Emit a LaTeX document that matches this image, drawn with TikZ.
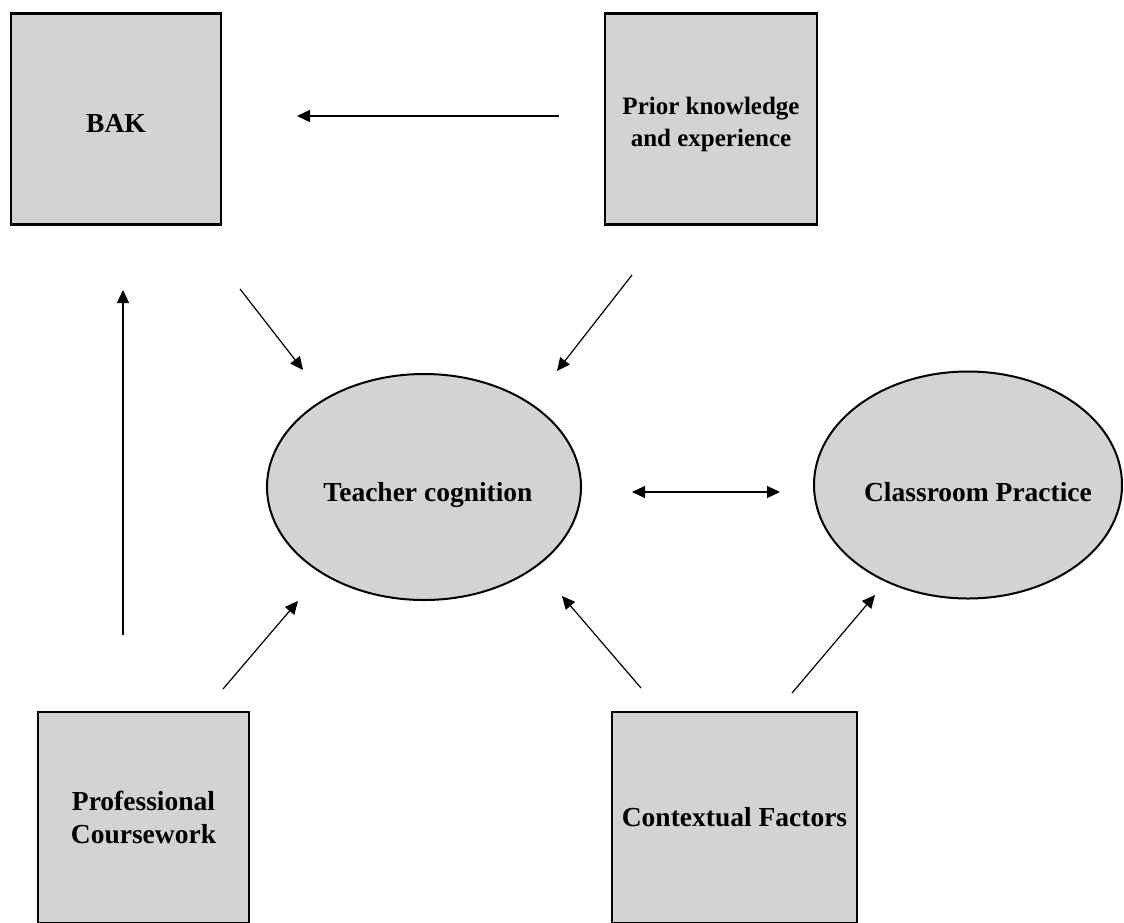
\documentclass[tikz,border=0pt]{standalone}
\usepackage{fontspec}
\setmainfont{Liberation Serif}
\usetikzlibrary{arrows.meta,shapes.geometric,positioning}
\definecolor{boxgray}{RGB}{211,211,211}

\begin{document}
\begin{tikzpicture}[x=1pt,y=-1pt,
    >={Triangle[length=13pt,width=12pt]},
    box/.style={draw,line width=2.2pt,fill=boxgray,inner sep=0pt,align=center,
      font=\bfseries\fontsize{27.5}{33}\selectfont},
    oval/.style={draw,ellipse,line width=2pt,fill=boxgray,inner sep=0pt,
      font=\bfseries\fontsize{27.5}{33}\selectfont},
    link/.style={->,line width=1.2pt}]
      \useasboundingbox (0,0) rectangle (1124,922);
      \clip (0,0) rectangle (1124,922);
      % boxes and ovals
      \node[box,minimum width=210pt,minimum height=211pt] (bak) at (116,119)
        {\raisebox{-13pt}[0pt][0pt]{BAK}};
      \node[box,minimum width=212pt,minimum height=211pt,
        font=\bfseries\fontsize{25}{32}\selectfont] (prior) at (711,119)
        {\raisebox{-11pt}[0pt][0pt]{\begin{tabular}{@{}c@{}}Prior knowledge\\and experience\end{tabular}}};
      \node[oval,minimum width=314pt,minimum height=226pt] (tc) at (424,487)
        {\makebox[0pt]{\raisebox{-14pt}[0pt][0pt]{\hspace*{8pt}Teacher cognition}}};
      \node[oval,minimum width=308pt,minimum height=227pt] (cp) at (968,485)
        {\makebox[0pt]{\raisebox{-16pt}[0pt][0pt]{\hspace*{20pt}Classroom Practice}}};
      \node[box,minimum width=211pt,minimum height=211pt] (pc) at (143.5,817.5) {Professional\\Coursework};
      \node[box,minimum width=245pt,minimum height=211pt] (cf) at (734.5,817.5) {Contextual Factors};
      % free arrow ends
      \coordinate (prior-w) at (559,116);
      \coordinate (bak-e) at (297,116);
      \coordinate (pc-n) at (123,635);
      \coordinate (bak-s) at (123,290);
      \coordinate (bak-se) at (240,289);
      \coordinate (tc-nw) at (303,370);
      \coordinate (prior-sw) at (632,275);
      \coordinate (tc-ne) at (557,371);
      \coordinate (tc-e) at (632,492);
      \coordinate (cp-w) at (780,492);
      \coordinate (pc-ne) at (223,689);
      \coordinate (tc-sw) at (298,601);
      \coordinate (cf-nw) at (641,688);
      \coordinate (tc-se) at (562,596);
      \coordinate (cf-ne) at (792,693);
      \coordinate (cp-sw) at (875,595);
      % arrows
      \draw[link] (prior-w) -- (bak-e);
      \draw[link] (pc-n) -- (bak-s);
      \draw[link] (bak-se) -- (tc-nw);
      \draw[link] (prior-sw) -- (tc-ne);
      \draw[link,<->] (tc-e) -- (cp-w);
      \draw[link] (pc-ne) -- (tc-sw);
      \draw[link] (cf-nw) -- (tc-se);
      \draw[link] (cf-ne) -- (cp-sw);
    \end{tikzpicture}
\end{document}
